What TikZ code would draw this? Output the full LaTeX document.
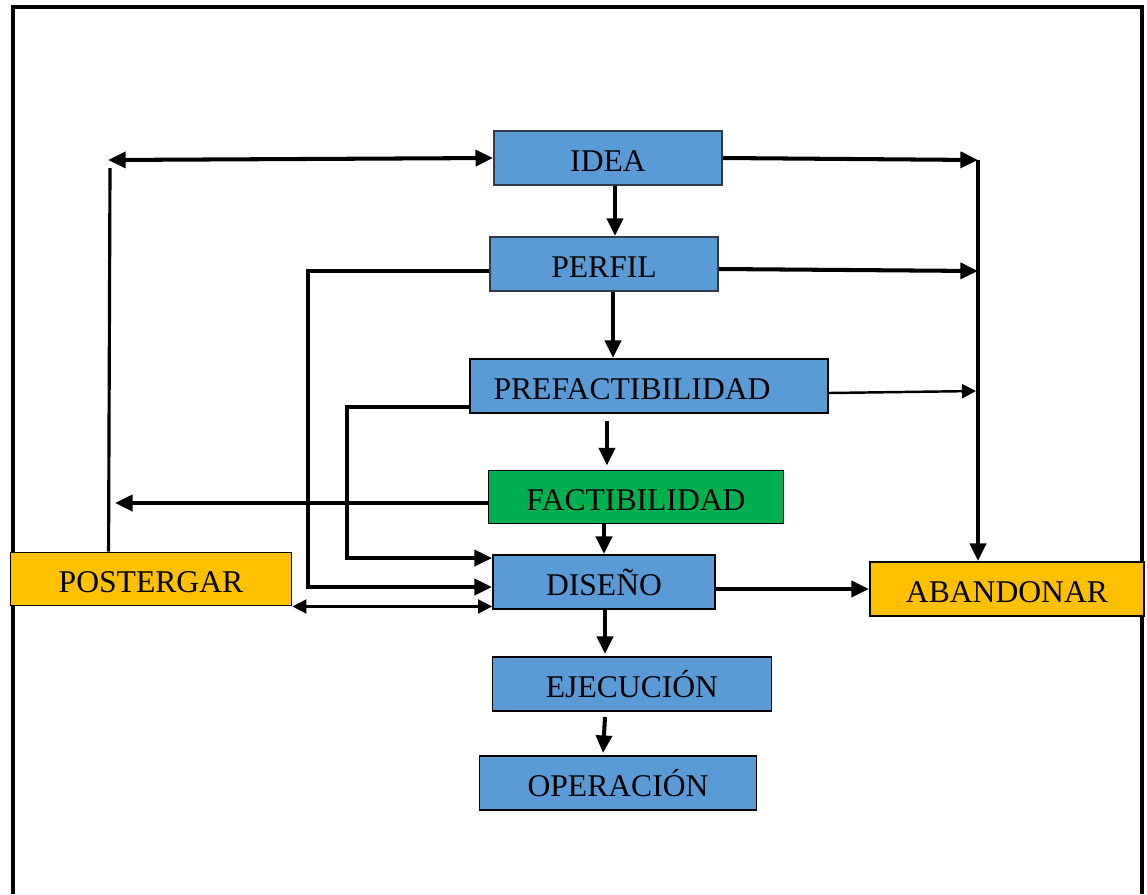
\documentclass[tikz,border=0pt]{standalone}
\usepackage{fontspec}
\setmainfont{Liberation Serif}
\usepackage{tikz}
\usetikzlibrary{positioning,arrows.meta,calc}
\definecolor{ofblue}{HTML}{5B9BD5}
\definecolor{ofgreen}{HTML}{00B050}
\definecolor{ofgold}{HTML}{FFC000}
\definecolor{slate}{HTML}{2F3B4C}

\begin{document}
\begin{tikzpicture}[
  x=0.02cm,y=-0.02cm,
  font=\fontsize{18}{21}\selectfont,
  box/.style={draw=black,line width=1.1pt,minimum height=1.08cm,inner sep=0pt,
              text height=15pt,text depth=0pt,align=center,text=black},
  proc/.style={box,fill=ofblue},
  topproc/.style={proc,draw=slate},
  okbox/.style={box,fill=ofgreen},
  outbox/.style={box,fill=ofgold},
  link/.style={line width=2.3pt,black},
  flow/.style={link,-{Triangle[length=10pt,width=9pt]}},
  both/.style={link,{Triangle[length=10pt,width=9pt]}-{Triangle[length=10pt,width=9pt]}},
  thinflow/.style={line width=1.4pt,black,-{Triangle[length=8pt,width=8pt]}},
  thinboth/.style={line width=1.2pt,black,{Triangle[length=8pt,width=8pt]}-{Triangle[length=8pt,width=8pt]}},
]
\useasboundingbox (0,0) rectangle (1147,894);

% frame
\draw[line width=2.8pt] (13,894) -- (13,7) -- (1142,7) -- (1142,894);

% spine
\node[topproc,minimum width=4.56cm] (idea)    at (608,158) {IDEA};
\node[topproc,minimum width=4.56cm] (perfil)  at (604,264) {PERFIL};
\node[proc,minimum width=7.16cm]    (prefact) at (649,386) {PREFACTIBILIDAD\hspace*{0.68cm}};
\node[okbox,minimum width=5.90cm,minimum height=1.06cm] (fact) at (636,497) {FACTIBILIDAD};
\node[proc,minimum width=4.44cm]    (diseno)  at (604,582) {DISEÑO};
\node[proc,minimum width=5.58cm]    (ejec)    at (632,684) {EJECUCIÓN};
\node[proc,minimum width=5.54cm]    (oper)    at (618,783) {OPERACIÓN};

% outcomes
\node[outbox,minimum width=5.62cm,minimum height=1.06cm] (post)  at (151,579) {POSTERGAR};
\node[outbox,minimum width=5.48cm] (aband) at (1007,589) {ABANDONAR};

% free ends on the two trunks
\coordinate (ltop) at (108,160);
\coordinate (lfact) at (115,503);
\coordinate (rtop) at (978,160);
\coordinate (rmid) at (978,271);
\coordinate (rlow) at (976,391);

% down the spine
\draw[flow] ($(idea.south)+(7,0)$) -- ($(perfil.north)+(11,0)$);
\draw[flow] ($(perfil.south)+(9,0)$) -- ($(prefact.north)+(-36,0)$);
\draw[flow] ($(prefact.south)+(-42,7)$) -- ($(fact.north)+(-29,-4)$);
\draw[flow] ($(fact.south)+(-32,0)$) -- (diseno.north);
\draw[flow] ($(diseno.south)+(1,0)$) -- ($(ejec.north)+(-27,-2)$);
\draw[flow] ($(ejec.south)+(-27,5)$) -- ($(oper.north)+(-15,-2)$);

% right trunk to abandonar
\draw[flow] (idea.east) -- (rtop);
\draw[flow] ($(perfil.east)+(0,5)$) -- (rmid);
\draw[thinflow] ($(prefact.east)+(0,7)$) -- (rlow);
\draw[flow] (rtop) -- (rtop |- aband.north);
\draw[flow] (diseno.east |- aband.west) -- (aband.west);

% left trunk to postergar
\draw[both] (ltop) -- (idea.west);
\draw[line width=1.8pt] ($(post.north west)+(99,0)$) -- ($(ltop)+(2,8)$);
\draw[flow] ($(fact.west)+(0,6)$) -- (lfact);
\draw[thinboth] (post.south east) -- (post.south east -| diseno.west);

% loops back into diseno
\draw[flow] ($(perfil.west)+(0,7)$) -- ++(-181,0) |- ($(diseno.west)+(0,5)$);
\draw[flow] ($(prefact.west)+(0,21)$) -- ++(-122,0) |- ($(diseno.north west)+(0,4)$);
\end{tikzpicture}
\end{document}
